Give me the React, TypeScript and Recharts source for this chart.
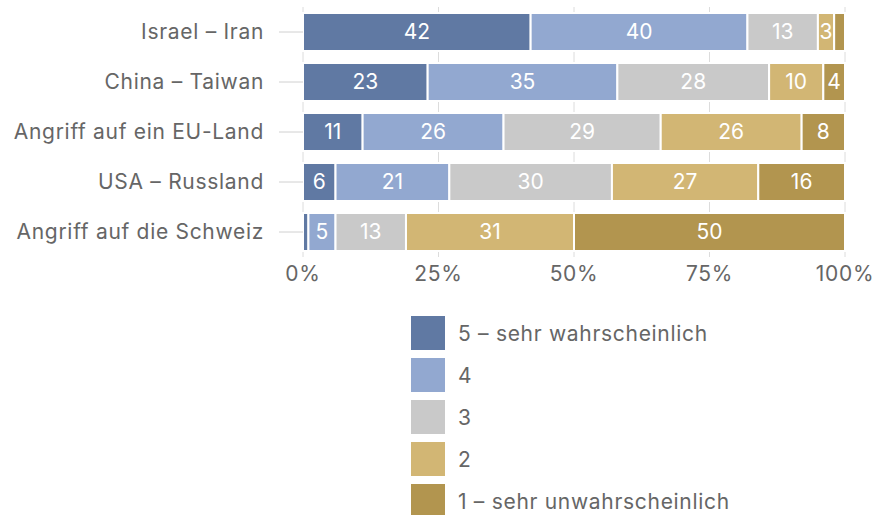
import { BarChart, Bar, XAxis, YAxis, CartesianGrid, Legend, LabelList } from "recharts";

const categories = [
  "Israel – Iran",
  "China – Taiwan",
  "Angriff auf ein EU-Land",
  "USA – Russland",
  "Angriff auf die Schweiz",
];
const sehrWahrscheinlich = [42, 23, 11, 6, 1];
const stufe4 = [40, 35, 26, 21, 5];
const stufe3 = [13, 28, 29, 30, 13];
const stufe2 = [3, 10, 26, 27, 31];
const sehrUnwahrscheinlich = [2, 4, 8, 16, 50];
const xTicks = [0, 25, 50, 75, 100];

const series = [
  { key: "s5", name: "5 – sehr wahrscheinlich", color: "#6079a3" },
  { key: "s4", name: "4", color: "#92a8d0" },
  { key: "s3", name: "3", color: "#c9c9c9" },
  { key: "s2", name: "2", color: "#d2b674" },
  { key: "s1", name: "1 – sehr unwahrscheinlich", color: "#b2954f" },
];

const data = categories.map((name, i) => ({
  name,
  s5: sehrWahrscheinlich[i],
  s4: stufe4[i],
  s3: stufe3[i],
  s2: stufe2[i],
  s1: sehrUnwahrscheinlich[i],
}));

const FONT = "Inter, 'Liberation Sans', Arial, sans-serif";
const TEXT = "#666";
const textStyle = { fontSize: 21, fill: TEXT, fontFamily: FONT, letterSpacing: 0.7 };

function hideSmall(v: unknown) {
  const n = typeof v === "number" ? v : Number(v);
  return n < 3 ? "" : String(n);
}

function LegendBox() {
  return (
    <div style={{ paddingTop: 25, paddingLeft: 411, fontFamily: FONT }}>
      {series.map((s) => (
        <div key={s.key} style={{ display: "flex", alignItems: "center", height: 42 }}>
          <div style={{ width: 34, height: 34, background: s.color }} />
          <span style={{ marginLeft: 13, fontSize: 21, color: TEXT, letterSpacing: 0.7 }}>{s.name}</span>
        </div>
      ))}
    </div>
  );
}

export default function App() {
  return (
    <div style={{ position: "absolute", left: 0, top: 0, background: "#fff" }}>
      <BarChart
        width={877}
        height={515}
        data={data}
        layout="vertical"
        margin={{ top: 7, right: 0, bottom: 0, left: 0 }}
        barSize={38}
      >
        <CartesianGrid horizontal={false} stroke="#dcdcdc" />
        <XAxis
          type="number"
          domain={[0, 100]}
          ticks={xTicks}
          tickFormatter={(v: number) => `${v}%`}
          axisLine={false}
          tickLine={false}
          height={30}
          tick={textStyle}
          tickMargin={3}
        />
        <YAxis
          type="category"
          dataKey="name"
          width={303}
          axisLine={false}
          tickSize={24}
          tickMargin={15}
          tickLine={{ stroke: "#d0d0d0" }}
          tick={textStyle}
        />
        <YAxis
          yAxisId="right"
          orientation="right"
          type="category"
          dataKey="name"
          width={32}
          axisLine={false}
          tickSize={30}
          tickLine={{ stroke: "#d0d0d0" }}
          tick={false}
        />
        <Legend verticalAlign="bottom" height={228} content={() => <LegendBox />} />
        {series.map((s) => (
          <Bar
            key={s.key}
            dataKey={s.key}
            name={s.name}
            stackId="a"
            fill={s.color}
            stroke="#fff"
            strokeWidth={2}
            isAnimationActive={false}
          >
            <LabelList
              dataKey={s.key}
              position="center"
              formatter={hideSmall}
              fill="#fff"
              style={{ fontSize: 21, fontFamily: FONT }}
            />
          </Bar>
        ))}
      </BarChart>
    </div>
  );
}
